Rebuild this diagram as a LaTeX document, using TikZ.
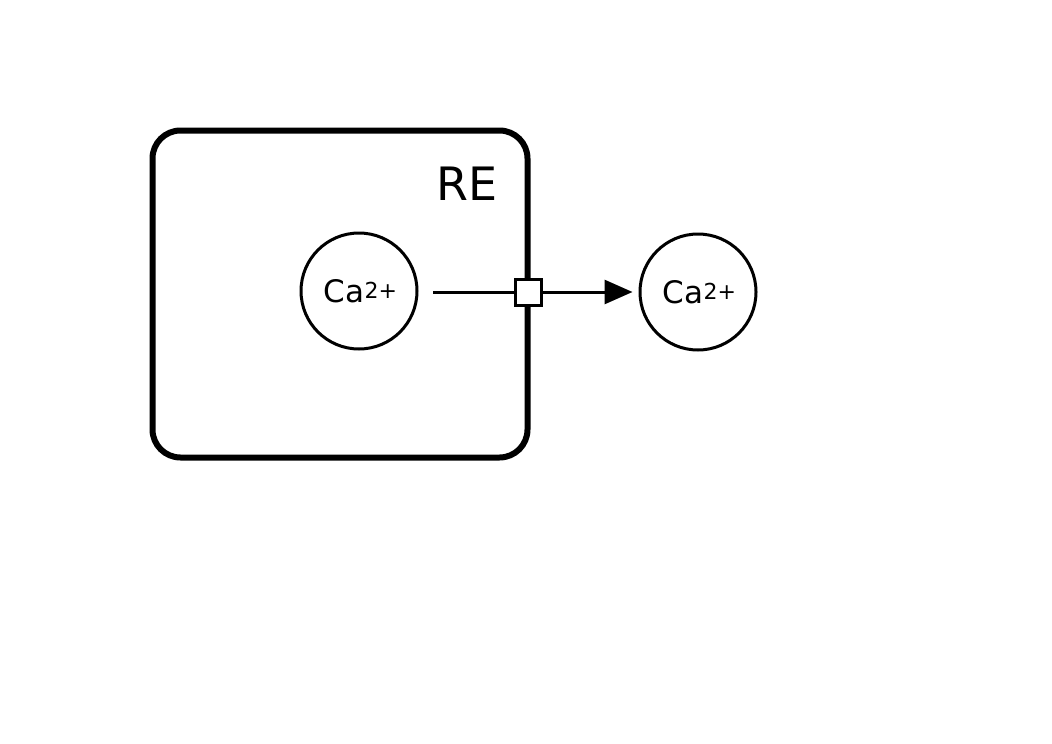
\documentclass[tikz,border=0pt]{standalone}
\usepackage{fontspec}
\setmainfont{DejaVu Sans}
\usetikzlibrary{arrows.meta}
\begin{document}
\begin{tikzpicture}[x=1pt,y=-1pt,
  compartment/.style={draw,line width=6pt,rounded corners=28pt},
  ion/.style={draw,circle,line width=3pt,minimum size=116pt,inner sep=0pt,font=\fontsize{31}{31}\selectfont},
  porter/.style={draw,fill=white,line width=3pt,minimum size=26pt,inner sep=0pt},
  flow/.style={line width=3pt,-{Triangle[length=28pt,width=24pt]}}]
\useasboundingbox (0,0) rectangle (1052,744);
\node[compartment,minimum width=375pt,minimum height=327pt,inner sep=0pt] (re) at (340,294) {};
\node[font=\fontsize{46}{46}\selectfont] (relabel) at (467,184) {RE};
\node[ion] (ca1) at (359,291) {\hspace{3pt}Ca\raisebox{4pt}{\fontsize{22}{22}\selectfont 2+}};
\node[ion] (ca2) at (698,292) {\hspace{3pt}Ca\raisebox{4pt}{\fontsize{22}{22}\selectfont 2+}};
\coordinate (start) at (433,292);
\node[porter] (ch) at (528,292) {};
\draw[line width=3pt] (start) -- (ch.west);
\draw[flow] (ch.east) -- ([xshift=-6pt]ca2.west);
\end{tikzpicture}
\end{document}
